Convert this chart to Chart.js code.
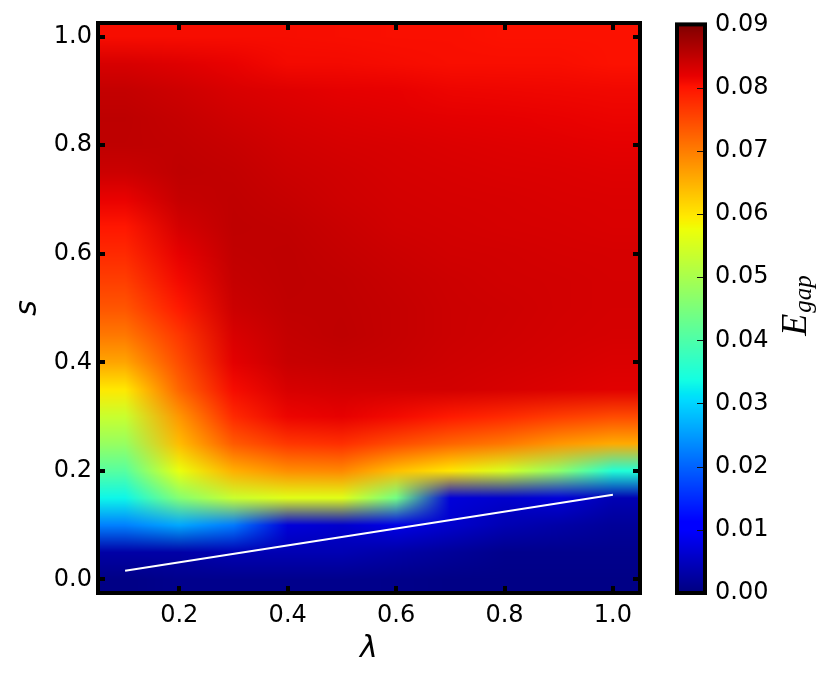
<!DOCTYPE html>
<html>
<head>
<meta charset="utf-8">
<script src="https://cdn.jsdelivr.net/npm/chart.js@4.4.1/dist/chart.umd.min.js"></script>
<style>
  html, body { margin: 0; padding: 0; background: #fff; }
  #wrap { position: relative; width: 830px; height: 679px; }
  #wrap canvas { position: absolute; left: 0; top: 0; }
</style>
</head>
<body>
<div id="wrap">
  <canvas id="gapChart" width="830" height="679"></canvas>
  <canvas id="barChart" width="830" height="679"></canvas>
</div>
<script>
// grid of the gap: columns = lambda, rows = s
const lambdaValues = [0.1, 0.2, 0.3, 0.4, 0.5, 0.6, 0.7, 0.8, 0.9, 1.0];
const sValues = [0.0, 0.05, 0.1, 0.15, 0.2, 0.25, 0.3, 0.35, 0.4, 0.45, 0.5,
                 0.55, 0.6, 0.65, 0.7, 0.75, 0.8, 0.85, 0.9, 0.95, 1.0];
// one row per s value (bottom to top)
const egapRows = [
  [0.0005, 0.001, 0.001, 0.001, 0.001, 0.0008, 0.0005, 0.0005, 0.0005, 0.0005],
  [0.003, 0.003, 0.004, 0.004, 0.004, 0.003, 0.002, 0.001, 0.001, 0.001],
  [0.0226, 0.026, 0.022, 0.007, 0.006, 0.008, 0.006, 0.004, 0.003, 0.002],
  [0.033, 0.046, 0.0534, 0.056, 0.056, 0.044, 0.007, 0.006, 0.007, 0.004],
  [0.041, 0.057, 0.0652, 0.0685, 0.069, 0.0638, 0.060, 0.055, 0.047, 0.035],
  [0.048, 0.064, 0.0733, 0.0767, 0.0775, 0.0747, 0.0723, 0.0705, 0.0676, 0.0657],
  [0.0534, 0.0676, 0.078, 0.0815, 0.082, 0.081, 0.0795, 0.078, 0.0762, 0.0748],
  [0.0598, 0.0723, 0.0808, 0.0832, 0.0836, 0.0836, 0.0836, 0.0832, 0.0828, 0.0824],
  [0.0662, 0.0747, 0.0822, 0.0844, 0.0846, 0.0844, 0.0839, 0.0836, 0.0833, 0.0829],
  [0.0705, 0.0767, 0.0831, 0.0847, 0.0851, 0.0846, 0.0841, 0.0838, 0.0835, 0.0833],
  [0.0738, 0.0795, 0.0841, 0.085, 0.085, 0.0846, 0.0841, 0.0839, 0.0836, 0.0834],
  [0.076, 0.081, 0.0846, 0.0851, 0.0849, 0.0844, 0.084, 0.0837, 0.0836, 0.0834],
  [0.078, 0.082, 0.0849, 0.0851, 0.0846, 0.0841, 0.0837, 0.0836, 0.0834, 0.0833],
  [0.0798, 0.0835, 0.0851, 0.0849, 0.0843, 0.0837, 0.0835, 0.0833, 0.0832, 0.083],
  [0.0818, 0.0846, 0.085, 0.0845, 0.0839, 0.0835, 0.0833, 0.0832, 0.083, 0.0829],
  [0.0841, 0.0851, 0.0848, 0.0841, 0.0837, 0.0833, 0.0831, 0.0829, 0.0828, 0.0826],
  [0.0851, 0.0849, 0.0844, 0.0837, 0.0833, 0.0831, 0.0828, 0.0826, 0.0824, 0.0821],
  [0.0852, 0.0846, 0.0838, 0.0832, 0.0828, 0.0825, 0.0822, 0.082, 0.0818, 0.0816],
  [0.0847, 0.084, 0.0831, 0.0826, 0.0821, 0.0819, 0.0815, 0.0814, 0.0813, 0.0812],
  [0.0832, 0.0826, 0.0818, 0.081, 0.081, 0.0808, 0.0806, 0.0806, 0.0806, 0.0803],
  [0.0807, 0.0807, 0.0807, 0.0807, 0.0806, 0.0805, 0.0805, 0.0803, 0.0803, 0.0803]
];
// white line
const lineLambda = [0.1, 1.0];
const lineS = [0.016, 0.156];
// ticks
const xTicks = [0.2, 0.4, 0.6, 0.8, 1.0];
const yTicks = [0.0, 0.2, 0.4, 0.6, 0.8, 1.0];
const cbTicks = [0.00, 0.01, 0.02, 0.03, 0.04, 0.05, 0.06, 0.07, 0.08, 0.09];
const cbMin = 0.0;
const cbMax = 0.09;

const dLambda = lambdaValues[1] - lambdaValues[0];
const dS = sValues[1] - sValues[0];

// matplotlib jet
const JET_R = [[0, 0], [0.35, 0], [0.66, 1], [0.89, 1], [1, 0.5]];
const JET_G = [[0, 0], [0.125, 0], [0.375, 1], [0.64, 1], [0.91, 0], [1, 0]];
const JET_B = [[0, 0.5], [0.11, 1], [0.34, 1], [0.65, 0], [1, 0]];
function seg(pts, t) {
  for (let i = 1; i < pts.length; i++) {
    if (t <= pts[i][0]) {
      const [x0, y0] = pts[i - 1], [x1, y1] = pts[i];
      return y0 + (y1 - y0) * (t - x0) / (x1 - x0);
    }
  }
  return pts[pts.length - 1][1];
}
function jet(v) {
  const t = Math.min(1, Math.max(0, (v - cbMin) / (cbMax - cbMin)));
  return [seg(JET_R, t) * 255, seg(JET_G, t) * 255, seg(JET_B, t) * 255];
}
const clamp = (v, a, b) => Math.min(b, Math.max(a, v));

const font = 'DejaVu Sans';

// image drawn through the scales, colours mixed like the old imshow
const heatmapPlugin = {
  id: 'heatmap',
  beforeDatasetsDraw(chart) {
    const { ctx, chartArea: a, scales: { x, y } } = chart;
    const w = Math.round(a.right - a.left), h = Math.round(a.bottom - a.top);
    const cells = egapRows.map(row => row.map(jet));
    const off = document.createElement('canvas');
    off.width = w; off.height = h;
    const octx = off.getContext('2d');
    const img = octx.createImageData(w, h);
    const nx = lambdaValues.length, ny = sValues.length;
    for (let j = 0; j < h; j++) {
      const sv = y.getValueForPixel(a.top + j + 0.5);
      const fy = clamp((sv - sValues[0]) / dS, 0, ny - 1);
      const j0 = Math.min(Math.floor(fy), ny - 2), ty = fy - j0;
      for (let i = 0; i < w; i++) {
        const lv = x.getValueForPixel(a.left + i + 0.5);
        const fx = clamp((lv - lambdaValues[0]) / dLambda, 0, nx - 1);
        const i0 = Math.min(Math.floor(fx), nx - 2), tx = fx - i0;
        const c00 = cells[j0][i0], c10 = cells[j0][i0 + 1];
        const c01 = cells[j0 + 1][i0], c11 = cells[j0 + 1][i0 + 1];
        const k = (j * w + i) * 4;
        for (let c = 0; c < 3; c++) {
          const lo = c00[c] * (1 - tx) + c10[c] * tx;
          const hi = c01[c] * (1 - tx) + c11[c] * tx;
          img.data[k + c] = lo * (1 - ty) + hi * ty;
        }
        img.data[k + 3] = 255;
      }
    }
    octx.putImageData(img, 0, 0);
    ctx.drawImage(off, a.left, a.top);
  },
  afterDraw(chart) {
    const { ctx, chartArea: a, scales: { x, y } } = chart;
    ctx.save();
    ctx.fillStyle = '#000';
    xTicks.forEach(v => {
      const px = Math.round(x.getPixelForValue(v));
      ctx.fillRect(px - 2, a.bottom - 7, 4, 7);
      ctx.fillRect(px - 2, a.top, 4, 7);
    });
    yTicks.forEach(v => {
      const py = Math.round(y.getPixelForValue(v));
      ctx.fillRect(a.left, py - 2, 7, 4);
      ctx.fillRect(a.right - 7, py - 2, 7, 4);
    });
    ctx.strokeStyle = '#000';
    ctx.lineWidth = 4;
    ctx.strokeRect(a.left, a.top, a.right - a.left, a.bottom - a.top);
    ctx.restore();
  }
};

const noGrid = { display: false, drawTicks: false, tickLength: 0 };

const gapChart = new Chart(document.getElementById('gapChart'), {
  type: 'scatter',
  data: {
    datasets: [{
      data: lineLambda.map((v, i) => ({ x: v, y: lineS[i] })),
      showLine: true,
      borderColor: '#ffffff',
      borderWidth: 1.8,
      pointRadius: 0,
      fill: false
    }]
  },
  options: {
    responsive: false,
    animation: false,
    devicePixelRatio: 1,
    layout: { padding: { left: 0, top: 23, right: 190, bottom: 0 } },
    plugins: { legend: { display: false }, tooltip: { enabled: false } },
    scales: {
      x: {
        type: 'linear',
        min: lambdaValues[0] - dLambda / 2,
        max: lambdaValues[lambdaValues.length - 1] + dLambda / 2,
        afterBuildTicks: s => { s.ticks = xTicks.map(v => ({ value: v })); },
        afterFit: s => { s.height = 86; },
        grid: noGrid,
        border: { display: false },
        ticks: {
          color: '#000', padding: 8, maxRotation: 0,
          font: { family: font, size: 24 },
          callback: v => v.toFixed(1)
        },
        title: {
          display: true, text: 'λ', color: '#000',
          padding: { top: 0, bottom: 12 },
          font: { family: font, size: 30, style: 'italic' }
        }
      },
      y: {
        type: 'linear',
        min: sValues[0] - dS / 2,
        max: sValues[sValues.length - 1] + dS / 2,
        afterBuildTicks: s => { s.ticks = yTicks.map(v => ({ value: v })); },
        afterFit: s => { s.width = 98; },
        grid: noGrid,
        border: { display: false },
        ticks: {
          color: '#000', padding: 6,
          font: { family: font, size: 24 },
          callback: v => v.toFixed(1)
        },
        title: {
          display: true, text: 's', color: '#000',
          padding: { top: 10, bottom: 0 },
          font: { family: font, size: 30, style: 'italic' }
        }
      }
    }
  },
  plugins: [heatmapPlugin]
});

// colour bar
const colorbarPlugin = {
  id: 'colorbar',
  beforeDatasetsDraw(chart) {
    const { ctx, chartArea: a, scales: { y } } = chart;
    for (let py = Math.floor(a.top); py < a.bottom; py++) {
      const c = jet(y.getValueForPixel(py + 0.5));
      ctx.fillStyle = `rgb(${c[0] | 0},${c[1] | 0},${c[2] | 0})`;
      ctx.fillRect(a.left, py, a.right - a.left, 1);
    }
  },
  afterDraw(chart) {
    const { ctx, chartArea: a, scales: { y } } = chart;
    ctx.save();
    ctx.strokeStyle = '#111';
    ctx.lineWidth = 1;
    cbTicks.forEach(v => {
      const py = Math.round(y.getPixelForValue(v)) + 0.5;
      ctx.beginPath();
      ctx.moveTo(a.right - 2, py);
      ctx.lineTo(a.right - 8, py);
      ctx.stroke();
    });
    ctx.strokeStyle = '#000';
    ctx.lineWidth = 4;
    ctx.strokeRect(a.left, a.top, a.right - a.left, a.bottom - a.top);
    // E_gap label, reads bottom to top
    ctx.translate(a.right + 101, (a.top + a.bottom) / 2 + 27);
    ctx.rotate(-Math.PI / 2);
    ctx.fillStyle = '#000';
    ctx.textAlign = 'left';
    ctx.textBaseline = 'alphabetic';
    ctx.font = 'italic 36px "Liberation Serif"';
    ctx.fillText('E', 0, 0);
    const ew = ctx.measureText('E').width;
    ctx.font = 'italic 25px "Liberation Serif"';
    ctx.fillText('gap', ew + 1, 5);
    ctx.restore();
  }
};

const barChart = new Chart(document.getElementById('barChart'), {
  type: 'scatter',
  data: { datasets: [] },
  options: {
    responsive: false,
    animation: false,
    devicePixelRatio: 1,
    layout: { padding: { left: 677, top: 23, right: 0, bottom: 86 } },
    plugins: { legend: { display: false }, tooltip: { enabled: false } },
    scales: {
      x: { display: false, min: 0, max: 1 },
      y: {
        type: 'linear',
        position: 'right',
        min: cbMin,
        max: cbMax,
        afterBuildTicks: s => { s.ticks = cbTicks.map(v => ({ value: v })); },
        afterFit: s => { s.width = 125; },
        grid: noGrid,
        border: { display: false },
        ticks: {
          color: '#000', padding: 10,
          font: { family: font, size: 24 },
          callback: v => v.toFixed(2)
        }
      }
    }
  },
  plugins: [colorbarPlugin]
});
</script>
</body>
</html>
